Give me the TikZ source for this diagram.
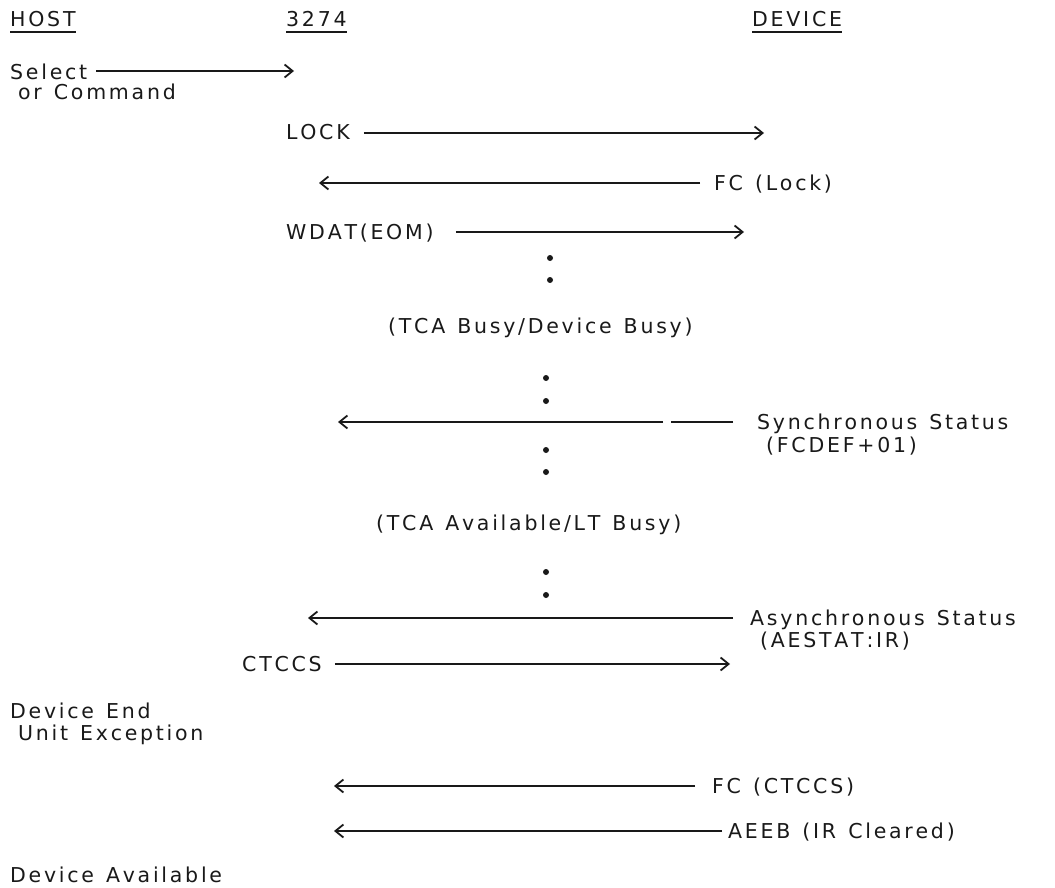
\documentclass[tikz,border=0pt]{standalone}
\usepackage{fontspec}
\setmainfont{DejaVu Sans}
\usetikzlibrary{arrows.meta}
% typewriter-like letter spacing: a fixed kern between characters (spaces written as ~)
\newdimen\lsamt
\lsamt=2.75pt
\def\lsfirst#1{#1\lsrest}
\def\lsrest#1{\ifx#1\relax\else\kern\lsamt\relax#1\expandafter\lsrest\fi}
\newcommand\spc[1]{\lsfirst#1\relax}
\begin{document}
\begin{tikzpicture}[x=1pt,y=-1pt,
  txt/.style={anchor=base west, inner sep=0pt, text=black!90, font=\fontsize{20.5}{24}\selectfont},
  ul/.style={line width=1.8pt, black!90},
  msgline/.style={line width=1.9pt, black!90},
  msg/.style={msgline, -{Straight Barb[length=8pt,width=13pt,line width=1.8pt]}},
  waitdot/.style={circle, fill=black!90, inner sep=0pt, minimum size=6pt}]
\useasboundingbox (0,0) rectangle (1055,888);

% column headers
\node[txt] (host) at (10,27) {\spc{HOST}};
\node[txt] (ctl) at (286,27) {\spc{3274}};
\node[txt] (dev) at (752,27) {\spc{DEVICE}};
\foreach \n in {host,ctl,dev}
  \draw[ul] ([yshift=-5pt]\n.base west) -- ([yshift=-5pt]\n.base east);

% Select or Command
\node[txt] (sel) at (10,80) {\spc{Select}};
\node[txt] (cmd) at (18,100) {\spc{or~Command}};
\coordinate (selE) at (294,71);
\draw[msg] ([xshift=9pt]sel.east |- selE) -- (selE);

% LOCK
\node[txt] (lock) at (286,140) {\spc{LOCK}};
\coordinate (lockE) at (764,133);
\draw[msg] ([xshift=14pt]lock.east |- lockE) -- (lockE);

% FC (Lock)
\node[txt] (fcl) at (714,190) {\spc{FC~(Lock)}};
\coordinate (fclE) at (319,183);
\draw[msg] ([xshift=-14pt]fcl.west |- fclE) -- (fclE);

% WDAT(EOM)
\node[txt] (wdat) at (286,239) {\spc{WDAT(EOM)}};
\coordinate (wdatE) at (744,232);
\draw[msg] ([xshift=22pt]wdat.east |- wdatE) -- (wdatE);

\node[waitdot] (d1) at (550,258) {};
\node[waitdot] (d2) at (550,280) {};

\node[txt] (tcab) at (388,333) {\spc{(TCA~Busy/Device~Busy)}};

\node[waitdot] (d3) at (546,378) {};
\node[waitdot] (d4) at (546,401) {};

% Synchronous status
\node[txt] (sync) at (757,429) {\spc{Synchronous~Status}};
\node[txt] (fcdef) at (766,452) {\spc{(FCDEF+01)}};
\coordinate (syncE) at (338,422);
\coordinate (syncG1) at (663,422);
\coordinate (syncG2) at (671,422);
\draw[msgline] ([xshift=-24pt]sync.west |- syncE) -- (syncG2);
\draw[msg] (syncG1) -- (syncE);

\node[waitdot] (d5) at (546,450) {};
\node[waitdot] (d6) at (546,472) {};

\node[txt] (tcaa) at (376,530) {\spc{(TCA~Available/LT~Busy)}};

\node[waitdot] (d7) at (546,572) {};
\node[waitdot] (d8) at (546,595) {};

% Asynchronous status
\node[txt] (async) at (750,625) {\spc{Asynchronous~Status}};
\node[txt] (aestat) at (760,647) {\spc{(AESTAT:IR)}};
\coordinate (asyncE) at (308,618);
\draw[msg] ([xshift=-17pt]async.west |- asyncE) -- (asyncE);

% CTCCS
\node[txt] (ctccs) at (242,671) {\spc{CTCCS}};
\coordinate (ctccsE) at (730,664);
\draw[msg] ([xshift=13pt]ctccs.east |- ctccsE) -- (ctccsE);

\node[txt] (dend) at (10,718) {\spc{Device~End}};
\node[txt] (uexc) at (18,740) {\spc{Unit~Exception}};

% FC (CTCCS)
\node[txt] (fcc) at (712,793) {\spc{FC~(CTCCS)}};
\coordinate (fccE) at (334,786);
\draw[msg] ([xshift=-17pt]fcc.west |- fccE) -- (fccE);

% AEEB (IR Cleared)
\node[txt] (aeeb) at (728,838) {\spc{AEEB~(IR~Cleared)}};
\coordinate (aeebE) at (334,831);
\draw[msg] ([xshift=-6pt]aeeb.west |- aeebE) -- (aeebE);

\node[txt] (davail) at (10,882) {\spc{Device~Available}};
\end{tikzpicture}
\end{document}
